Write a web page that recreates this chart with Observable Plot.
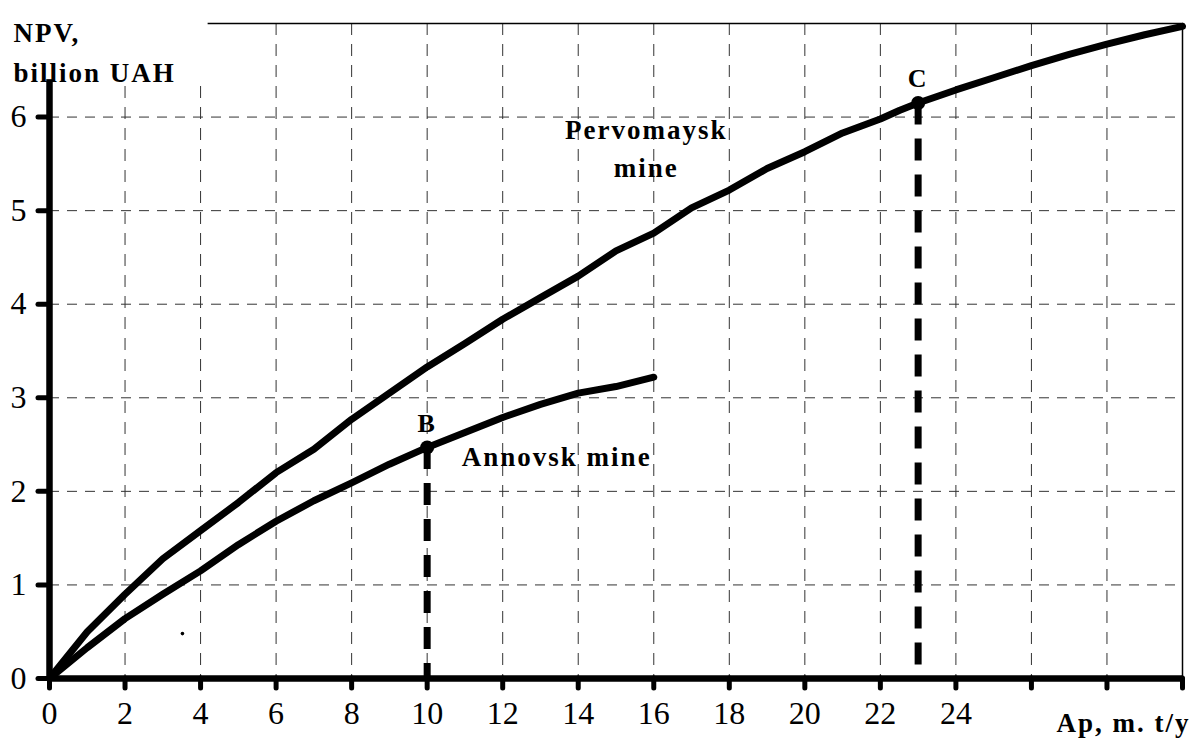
<!DOCTYPE html>
<html>
<head>
<meta charset="utf-8">
<script src="https://cdn.jsdelivr.net/npm/d3@7"></script>
<script src="https://cdn.jsdelivr.net/npm/@observablehq/plot@0.6"></script>
<style>
  html, body { margin: 0; padding: 0; background: #fff; }
</style>
</head>
<body>
<div id="chart"></div>
<script>
// ---- data ----
const pervoX = [0, 1, 2, 3, 4, 5, 6, 7, 8, 9, 10, 11, 12, 13, 14, 15, 16, 17, 18, 19, 20, 21, 22, 22.5, 23, 24, 25, 26, 27, 28, 29, 30];
const pervoY = [0, 0.5, 0.9, 1.28, 1.58, 1.88, 2.2, 2.45, 2.77, 3.05, 3.33, 3.58, 3.84, 4.07, 4.3, 4.57, 4.76, 5.03, 5.22, 5.45, 5.63, 5.83, 5.98, 6.07, 6.15, 6.29, 6.42, 6.55, 6.67, 6.78, 6.88, 6.97];
const annX = [0, 1, 2, 3, 4, 5, 6, 7, 8, 9, 10, 11, 12, 13, 14, 15, 16];
const annY = [0, 0.33, 0.64, 0.9, 1.15, 1.43, 1.68, 1.9, 2.09, 2.29, 2.47, 2.63, 2.79, 2.93, 3.05, 3.12, 3.22];
const pointNames = ["B", "C"];
const pointX = [10, 23];
const pointY = [2.47, 6.15];
const strayX = [3.52];
const strayY = [0.48];
const xTicks = [0, 2, 4, 6, 8, 10, 12, 14, 16, 18, 20, 22, 24, 26, 28, 30];
const xTickLabels = [0, 2, 4, 6, 8, 10, 12, 14, 16, 18, 20, 22, 24];
const yTicks = [0, 1, 2, 3, 4, 5, 6];
const xGrid = [2, 4, 6, 8, 10, 12, 14, 16, 18, 20, 22, 24, 26, 28];
const yGrid = [1, 2, 3, 4, 5, 6];
const mineNames = ["Pervomaysk\nmine", "Annovsk mine"];
const mineLabelX = [15.8, 13.43];
const mineLabelY = [5.69, 2.4];
const yTitle = "NPV,\nbillion UAH";
const xTitle = "Ap, m. t/y";

// ---- tables ----
const pervo = pervoX.map((x, i) => ({x, y: pervoY[i]}));
const ann = annX.map((x, i) => ({x, y: annY[i]}));
const points = pointNames.map((n, i) => ({name: n, x: pointX[i], y: pointY[i]}));
const stray = strayX.map((x, i) => ({x, y: strayY[i]}));
const mineLabels = mineNames.map((t, i) => ({t, x: mineLabelX[i], y: mineLabelY[i]}));

const font = "Liberation Serif, Times New Roman, serif";
const fs = 27;
const tickFs = 32;

const chart = Plot.plot({
  width: 1200,
  height: 740,
  marginLeft: 49,
  marginRight: 18,
  marginTop: 23,
  marginBottom: 62,
  style: {fontFamily: font, background: "#fff", color: "#000"},
  x: {domain: [0, 30], axis: null},
  y: {domain: [0, 7], axis: null},
  marks: [
    Plot.gridX(xGrid, {stroke: "#333", strokeOpacity: 1, strokeWidth: 1, strokeDasharray: "12,9"}),
    Plot.gridY(yGrid, {stroke: "#333", strokeOpacity: 1, strokeWidth: 1, strokeDasharray: "10,8"}),
    Plot.frame({stroke: "#000", strokeWidth: 1.5}),
    Plot.ruleX([0], {stroke: "#000", strokeWidth: 6.5}),
    Plot.ruleY([0], {stroke: "#000", strokeWidth: 6.5}),
    // white box behind the y-axis title (hides frame, grid and axis top there)
    Plot.rect([0], {x1: -2, x2: 4.2, y1: 6.4, y2: 7.4, fill: "#fff"}),
    Plot.axisX(xTicks, {
      label: null, tickSize: 10, strokeWidth: 5, strokeLinecap: "round",
      tickFormat: () => ""
    }),
    Plot.axisY(yTicks, {
      label: null, tickSize: 11, strokeWidth: 5, strokeLinecap: "round",
      tickFormat: () => ""
    }),
    Plot.text(xTickLabels, {x: d => d, frameAnchor: "bottom", dy: 45, text: d => String(d), fontSize: tickFs, fontFamily: font, fill: "#000"}),
    Plot.text(yTicks, {y: d => d, frameAnchor: "left", dx: -23, textAnchor: "end", text: d => String(d), fontSize: tickFs, fontFamily: font, fill: "#000"}),
    Plot.line(pervo, {x: "x", y: "y", stroke: "#000", strokeWidth: 7, strokeLinejoin: "round", strokeLinecap: "round"}),
    Plot.line(ann, {x: "x", y: "y", stroke: "#000", strokeWidth: 7, strokeLinejoin: "round", strokeLinecap: "round"}),
    Plot.ruleX(points, {x: "x", y1: "y", y2: 0, stroke: "#000", strokeWidth: 7, strokeDasharray: "22,14"}),
    Plot.dot(points, {x: "x", y: "y", r: 7, fill: "#000", stroke: "none"}),
    Plot.dot(stray, {x: "x", y: "y", r: 1.8, fill: "#000", stroke: "none"}),
    Plot.text(points, {x: "x", y: "y", text: "name", dy: -24, fontSize: 26, fontWeight: "bold", fontFamily: font, fill: "#000"}),
    Plot.text(mineLabels, {x: "x", y: "y", text: "t", fontSize: fs, fontWeight: "bold", fontFamily: font, fill: "#000", lineHeight: 1.4}),
    Plot.text([yTitle], {frameAnchor: "top-left", dx: -36, dy: -10, textAnchor: "start", lineAnchor: "top", lineHeight: 1.48, fontSize: fs, fontWeight: "bold", fontFamily: font, fill: "#000"}),
    Plot.text([xTitle], {frameAnchor: "bottom-right", dx: 8, dy: 45, textAnchor: "end", lineAnchor: "middle", fontSize: fs, fontWeight: "bold", fontFamily: font, fill: "#000"})
  ]
});
document.getElementById("chart").appendChild(chart);
// letter spacing for the bold annotation labels
d3.select(chart).selectAll('g[aria-label="text"]')
  .filter(function() { return this.getAttribute("font-weight") === "bold"; })
  .selectAll("text")
  .style("letter-spacing", "2px");
</script>
</body>
</html>
